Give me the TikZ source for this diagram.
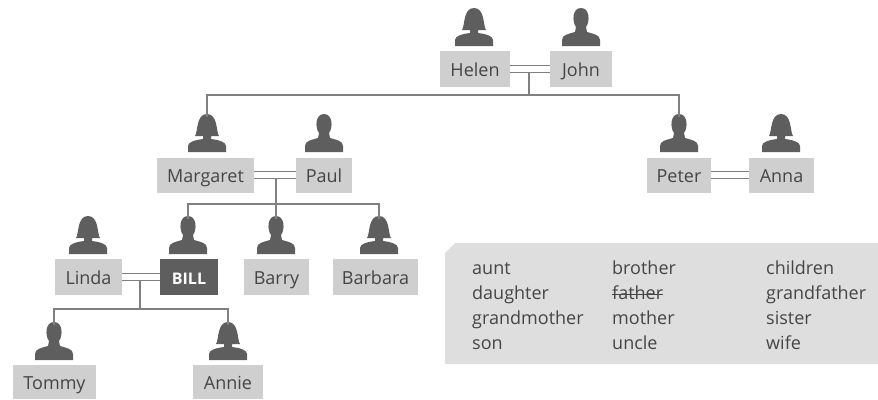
\documentclass[tikz,border=0pt]{standalone}
\usepackage{fontspec}
\setmainfont{Open Sans}
\usetikzlibrary{calc}
\definecolor{sil}{HTML}{5E5E5E}
\definecolor{boxg}{HTML}{CFCFCF}
\definecolor{panelg}{HTML}{DEDEDE}
\definecolor{linkg}{HTML}{808080}
\definecolor{txt}{HTML}{454545}
\tikzset{
  x=1pt,y=-1pt,
  namebox/.style={fill=boxg,text=txt,font=\fontsize{18}{20}\selectfont,inner sep=0pt,anchor=center,text height=15pt,text depth=1pt},
  selfbox/.style={namebox,fill=sil,text=white,font=\fontsize{16}{20}\selectfont\bfseries},
  wordtext/.style={text=txt,font=\fontsize{18}{20}\selectfont,inner sep=0pt,anchor=base west},
  link/.style={draw=linkg,line width=1.2pt},
  marriage/.style={draw=linkg,line width=1pt},
  male/.pic={
    \fill[sil] (-19,0) -- (-19,-6) .. controls (-19,-11) and (-13,-12) .. (-6,-14) -- (-5,-19)
      .. controls (-9,-24) and (-9,-38) .. (0,-38) .. controls (9,-38) and (9,-24) .. (5,-19)
      -- (6,-14) .. controls (13,-12) and (19,-11) .. (19,-6) -- (19,0) -- cycle;
    \coordinate (-top) at (0,-35);
  },
  female/.pic={
    \fill[sil] (-19,0) -- (-19,-6) .. controls (-19,-10) and (-12,-12) .. (-4,-13) -- (-4,-16)
      -- (-12,-16) .. controls (-9,-20) and (-11,-38) .. (0,-38)
      .. controls (11,-38) and (9,-20) .. (12,-16) -- (4,-16) -- (4,-13)
      .. controls (12,-12) and (19,-10) .. (19,-6) -- (19,0) -- cycle;
    \coordinate (-top) at (0,-35);
  }
}
\begin{document}
\begin{tikzpicture}
\useasboundingbox (0,0) rectangle (878,399);
% word panel
\fill[panelg] (445,253) -- (455,243) -- (878,243) -- (878,364) -- (445,364) -- cycle;
\node[wordtext] (w1) at (472,274) {aunt};
\node[wordtext] (w2) at (612,274) {brother};
\node[wordtext] (w3) at (766,274) {children};
\node[wordtext] (w4) at (472,299) {daughter};
\node[wordtext] (w5) at (612,299) {father};
\node[wordtext] (w6) at (766,299) {grandfather};
\node[wordtext] (w7) at (472,324) {grandmother};
\node[wordtext] (w8) at (612,324) {mother};
\node[wordtext] (w9) at (766,324) {sister};
\node[wordtext] (w10) at (472,349) {son};
\node[wordtext] (w11) at (612,349) {uncle};
\node[wordtext] (w12) at (766,349) {wife};
\draw[txt,line width=0.8pt] ([yshift=4.5pt]w5.base west) -- ([yshift=4.5pt]w5.base east);
% boxes
\node[namebox,minimum width=70,minimum height=36] (helen) at (475,69) {Helen};
\node[namebox,minimum width=62,minimum height=36] (john) at (581,69) {John};
\node[namebox,minimum width=97,minimum height=35] (margaret) at (205.5,175) {Margaret};
\node[namebox,minimum width=56,minimum height=35] (paul) at (324,175) {Paul};
\node[namebox,minimum width=64,minimum height=35] (peter) at (679,175) {Peter};
\node[namebox,minimum width=65,minimum height=35] (anna) at (781.5,175) {Anna};
\node[namebox,minimum width=67,minimum height=36] (linda) at (88.5,277) {Linda};
\node[selfbox,minimum width=58,minimum height=36] (bill) at (189,277) {BILL};
\node[namebox,minimum width=65,minimum height=36] (barry) at (276.5,277) {Barry};
\node[namebox,minimum width=85,minimum height=36] (barbara) at (375.5,277) {Barbara};
\node[namebox,minimum width=83,minimum height=34] (tommy) at (54.5,382) {Tommy};
\node[namebox,minimum width=70,minimum height=34] (annie) at (228,382) {Annie};
% silhouettes
\pic (phelen) at (474,46) {female};
\pic (pjohn) at (581,46) {male};
\pic (pmargaret) at (207,152) {female};
\pic (ppaul) at (324,152) {male};
\pic (ppeter) at (679,152) {male};
\pic (panna) at (781,152) {female};
\pic (plinda) at (88,254) {female};
\pic (pbill) at (188,254) {male};
\pic (pbarry) at (276,254) {male};
\pic (pbarbara) at (379,254) {female};
\pic (ptommy) at (54,360) {male};
\pic (pannie) at (228,360) {female};
% marriages
\foreach \a/\b in {helen/john,margaret/paul,peter/anna,linda/bill}{
  \draw[marriage] ([yshift=3.5pt]\a.east) -- ([yshift=3.5pt]\b.west);
  \draw[marriage] ([yshift=-3.5pt]\a.east) -- ([yshift=-3.5pt]\b.west);
}
% descent
\coordinate (hj) at (529,72.5);
\coordinate (hjbar) at (529,95);
\coordinate (mp) at (276,178.5);
\coordinate (mpbar) at (276,204);
\coordinate (lb) at (140,280.5);
\coordinate (lbbar) at (140,309);
\draw[link] (hj) -- (hjbar);
\draw[link] (pmargaret-top) |- (hjbar) -| (ppeter-top);
\draw[link] (mp) -- (mpbar) -- (pbarry-top);
\draw[link] (pbill-top) |- (mpbar) -| (pbarbara-top);
\draw[link] (lb) -- (lbbar);
\draw[link] (ptommy-top) |- (lbbar) -| (pannie-top);
\end{tikzpicture}
\end{document}
